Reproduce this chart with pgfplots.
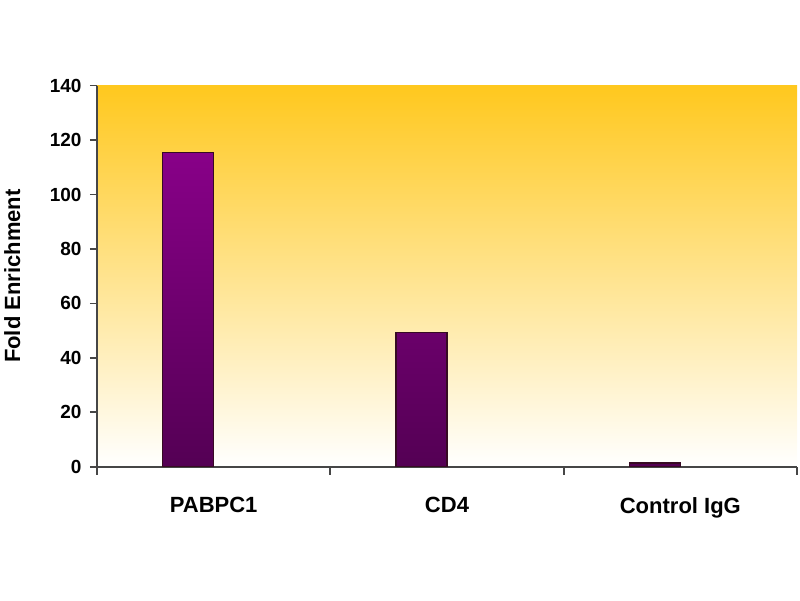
\documentclass[border=0pt]{standalone}
\usepackage{pgfplots}
\pgfplotsset{compat=1.18}
\usepackage{fontspec}
\setmainfont{Liberation Sans}
\definecolor{bgtop}{RGB}{255,200,30}
\definecolor{bgmid}{RGB}{255,228,175}
\definecolor{bartop}{RGB}{136,0,136}
\definecolor{barbot}{RGB}{84,0,84}
\definecolor{baredge}{RGB}{55,10,35}
\definecolor{axgray}{RGB}{70,70,70}
\begin{document}
\begin{tikzpicture}[x=1pt,y=1pt]
\path[use as bounding box] (0,0) rectangle (800,600);
\begin{axis}[
  at={(97pt,133.3pt)}, anchor=south west,
  scale only axis, width=700pt, height=381pt,
  xmin=-0.5, xmax=2.5, ymin=0, ymax=140,
  axis x line*=bottom, axis y line*=left,
  axis line style={axgray, line width=1.6pt},
  axis background/.style={shading=axis, top color=bgtop, middle color=bgmid, bottom color=white},
  /pgf/number format/assume math mode=true,
  ytick={0,20,40,60,80,100,120,140},
  yticklabel style={font=\fontsize{19}{19}\selectfont\bfseries, xshift=-5pt},
  xtick={0,1,2},
  xticklabels={PABPC1,CD4,Control IgG},
  xticklabel style={font=\fontsize{22}{22}\selectfont\bfseries, yshift=-20pt},
  minor xtick={-0.5,0.5,1.5,2.5},
  major x tick style={draw=none},
  every minor tick/.append style={line width=1.8pt, draw=axgray},
  tick align=outside,
  major tick length=7pt,
  minor tick length=8pt,
  y tick style={axgray, line width=1.6pt},
  ylabel={Fold Enrichment},
  ylabel style={font=\fontsize{22}{22}\selectfont\bfseries, at={(axis description cs:-0.121,0.5)}, anchor=center},
]
\addplot[ybar, bar width=51pt, bar shift=-25.5pt, draw=baredge, line width=1.4pt,
  top color=bartop, bottom color=barbot] coordinates {(0,115.4) (1,49.4) (2,1.3)};
\end{axis}
\end{tikzpicture}
\end{document}
